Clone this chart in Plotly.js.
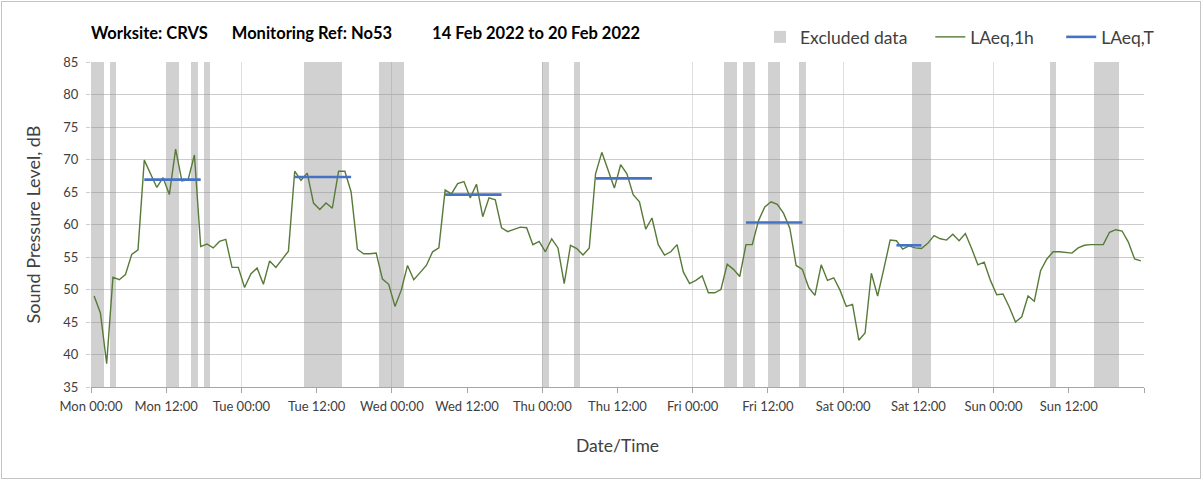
<!DOCTYPE html>
<html>
<head>
<meta charset="utf-8">
<script src="https://cdn.plot.ly/plotly-3.0.1.min.js"></script>
<style>
  html, body { margin: 0; padding: 0; background: #fff; }
  #chart { width: 1203px; height: 481px; position: absolute; left: 0; top: 0; }
  #frame { position: absolute; left: 1px; top: 1px; width: 1198px; height: 476px; border: 1px solid #c4c4c4; pointer-events: none; }
</style>
</head>
<body>
<div id="chart"></div>
<div id="frame"></div>
<script>
// ---- Data ----
// Hourly LAeq,1h values, hour index 0 = Mon 00:00 ... 167 = Sun 23:00
const laeq1h = [
  49.0, 46.4, 38.6, 51.9, 51.5, 52.3, 55.4, 56.1, 69.9, 67.8, 65.7, 67.2,
  64.6, 71.6, 66.7, 66.9, 70.7, 56.6, 57.0, 56.4, 57.4, 57.7, 53.4, 53.4,
  50.3, 52.4, 53.3, 50.8, 54.4, 53.4, 54.6, 55.9, 68.2, 66.8, 67.9, 63.3,
  62.3, 63.3, 62.5, 68.2, 68.2, 65.0, 56.2, 55.5, 55.5, 55.6, 51.6, 50.8,
  47.4, 49.9, 53.7, 51.5, 52.6, 53.7, 55.8, 56.4, 65.3, 64.7, 66.3, 66.6,
  64.1, 66.2, 61.2, 64.1, 63.8, 59.5, 58.9, 59.3, 59.6, 59.5, 56.9, 57.4,
  55.8, 57.8, 56.4, 50.9, 56.8, 56.3, 55.3, 56.4, 67.8, 71.1, 68.3, 65.6,
  69.2, 67.8, 64.6, 63.5, 59.3, 61.0, 56.9, 55.3, 55.8, 56.9, 52.7, 50.9,
  51.4, 52.1, 49.5, 49.5, 50.0, 53.9, 53.1, 52.0, 56.9, 56.9, 60.6, 62.7,
  63.5, 63.1, 61.7, 59.4, 53.7, 53.1, 50.3, 49.1, 53.8, 51.4, 51.8, 49.9,
  47.4, 47.7, 42.2, 43.3, 52.5, 49.0, 53.2, 57.6, 57.5, 56.2, 56.7, 56.4,
  56.3, 57.1, 58.3, 57.8, 57.6, 58.5, 57.5, 58.6, 56.3, 53.8, 54.2, 51.4,
  49.2, 49.3, 47.3, 45.0, 45.8, 49.0, 48.2, 52.9, 54.7, 55.8, 55.8, 55.7,
  55.6, 56.4, 56.8, 56.9, 56.9, 56.9, 58.8, 59.2, 59.0, 57.3, 54.7, 54.4
];

// LAeq,T periods (first and last hour index of each period) and values
const ltStartHour = [8, 32, 56, 80, 104, 128];
const ltEndHour   = [17, 41, 65, 89, 113, 132];
const ltValue     = [66.9, 67.3, 64.6, 67.1, 60.3, 56.8];

// Hours flagged as excluded data
const excludedHours = [0, 1, 3, 12, 13, 16, 18, 34, 35, 36, 37, 38, 39, 46, 47, 48, 49,
                       72, 77, 101, 102, 104, 105, 108, 109, 113, 131, 132, 133, 153,
                       160, 161, 162, 163];

// Tick labels (every 12 h from Mon 00:00)
const tickLabels = ['Mon 00:00', 'Mon 12:00', 'Tue 00:00', 'Tue 12:00', 'Wed 00:00', 'Wed 12:00',
                    'Thu 00:00', 'Thu 12:00', 'Fri 00:00', 'Fri 12:00', 'Sat 00:00', 'Sat 12:00',
                    'Sun 00:00', 'Sun 12:00', ''];

// ---- Build traces ----
const yMin = 35, yMax = 85;
const hourCentre = h => h + 0.5;
const pad = n => '\u00a0'.repeat(n);

const tickVals = tickLabels.map((_, k) => k * 12);
const dayGridVals = tickVals.filter(v => v % 24 === 0);

const excludedTrace = {
  type: 'bar',
  name: 'Excluded data' + pad(4),
  x: excludedHours.map(hourCentre),
  y: excludedHours.map(() => yMax - yMin),
  base: yMin,
  width: 1,
  marker: { color: 'rgba(140,140,140,0.40)', line: { width: 0 } },
  xaxis: 'x', yaxis: 'y',
  hoverinfo: 'skip'
};

const lineTrace = {
  type: 'scatter', mode: 'lines',
  name: 'LAeq,1h' + pad(5),
  x: laeq1h.map((_, i) => hourCentre(i)),
  y: laeq1h,
  line: { color: '#587a38', width: 1.4 },
  xaxis: 'x2', yaxis: 'y'
};

const ltX = [], ltY = [];
ltValue.forEach((v, k) => {
  ltX.push(hourCentre(ltStartHour[k]), hourCentre(ltEndHour[k]), null);
  ltY.push(v, v, null);
});
const ltTrace = {
  type: 'scatter', mode: 'lines',
  name: 'LAeq,T',
  x: ltX, y: ltY,
  line: { color: '#4472c4', width: 2.6 },
  connectgaps: false,
  xaxis: 'x2', yaxis: 'y'
};

const FONT = 'Lato, "Open Sans", sans-serif';

const layout = {
  width: 1203, height: 481,
  margin: { l: 91, r: 59, t: 62, b: 94 },
  paper_bgcolor: '#ffffff',
  plot_bgcolor: 'rgba(0,0,0,0)',
  font: { family: FONT, color: '#404040' },
  showlegend: true,
  bargap: 0,
  title: {
    text: 'Worksite: CRVS' + pad(6) + 'Monitoring Ref: No53' + pad(10) + '14 Feb 2022 to 20 Feb 2022',
    font: { family: FONT, size: 16.5, color: '#000000', weight: 'bold' },
    xref: 'container', x: 91 / 1203, xanchor: 'left',
    yref: 'container', y: 1 - 33 / 481, yanchor: 'middle'
  },
  legend: {
    orientation: 'h',
    xref: 'container', x: 1160 / 1203, xanchor: 'right',
    yref: 'container', y: 1 - 37 / 481, yanchor: 'middle',
    font: { family: FONT, size: 17.5, color: '#404040' },
    bgcolor: 'rgba(0,0,0,0)',
    traceorder: 'normal'
  },
  xaxis: {
    range: [0, 168],
    tickmode: 'array', tickvals: dayGridVals,
    showticklabels: false, ticks: '',
    showgrid: true, gridcolor: '#dedede', gridwidth: 1,
    showline: false, zeroline: false,
    fixedrange: true
  },
  xaxis2: {
    overlaying: 'x', anchor: 'y', side: 'bottom',
    range: [0, 168],
    tickmode: 'array', tickvals: tickVals, ticktext: tickLabels,
    ticks: 'outside', ticklen: 5, tickcolor: '#a6a6a6', tickwidth: 1,
    ticklabelstandoff: 2,
    tickfont: { family: FONT, size: 13, color: '#404040' },
    showgrid: false, showline: true, linecolor: '#a6a6a6', linewidth: 1,
    zeroline: false,
    title: { text: 'Date/Time', font: { family: FONT, size: 17.5, color: '#404040' }, standoff: 27 },
    automargin: false,
    fixedrange: true
  },
  yaxis: {
    range: [yMin, yMax],
    dtick: 5, tick0: 35,
    ticks: 'outside', ticklen: 4, tickcolor: '#cccccc',
    ticklabelstandoff: 5,
    tickfont: { family: FONT, size: 13, color: '#404040' },
    showgrid: true, gridcolor: '#cccccc', gridwidth: 1,
    showline: false, zeroline: false,
    title: { text: 'Sound Pressure Level, dB', font: { family: FONT, size: 18, color: '#404040' }, standoff: 18 },
    automargin: false,
    fixedrange: true
  }
};

Plotly.newPlot('chart', [excludedTrace, lineTrace, ltTrace], layout, { staticPlot: true, displayModeBar: false });
</script>
</body>
</html>
